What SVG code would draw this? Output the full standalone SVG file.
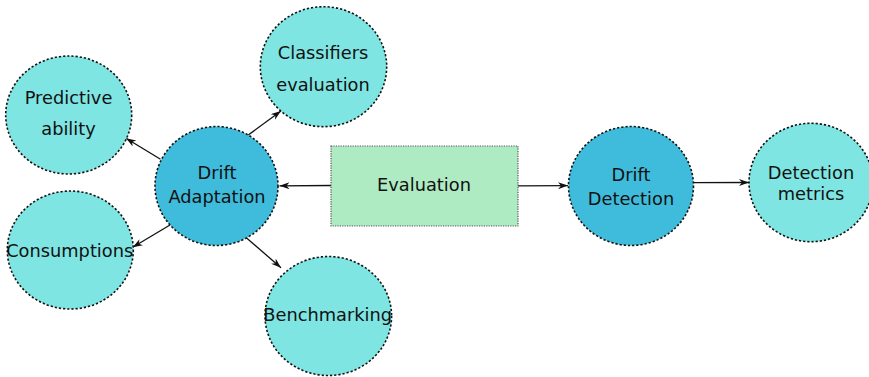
<svg xmlns="http://www.w3.org/2000/svg" width="869" height="377" viewBox="0 0 869 377">
  <style>
    .leaf { fill: #7ee5e2; stroke: #111; stroke-width: 1.6; stroke-dasharray: 2.2 2; }
    .core { fill: #3fbcdc; stroke: #111; stroke-width: 1.6; stroke-dasharray: 2.2 2; }
    .box { fill: #aeeac2; stroke: #555; stroke-width: 1.2; stroke-dasharray: 1.2 1.2; }
    text { font-family: "DejaVu Sans", "Liberation Sans", sans-serif; font-size: 17.8px; fill: #111; text-anchor: middle; }
    .edge { stroke: #111; stroke-width: 1.3; fill: none; marker-end: url(#arrow); }
  </style>
  <defs>
    <marker id="arrow" markerWidth="11" markerHeight="8" refX="10" refY="3.5" orient="auto" markerUnits="userSpaceOnUse">
      <path d="M0,0 L10,3.5 L0,7 L3,3.5 z" fill="#111"/>
    </marker>
  </defs>

  <!-- connectors -->
  <g id="edges">
    <line class="edge" x1="331" y1="185.5" x2="279.5" y2="185.8"/>
    <line class="edge" x1="518" y1="185.8" x2="568" y2="185.6"/>
    <line class="edge" x1="694" y1="182.7" x2="749" y2="182.5"/>
    <line class="edge" x1="160.5" y1="159.3" x2="126" y2="138.3"/>
    <line class="edge" x1="248.3" y1="135" x2="281" y2="111"/>
    <line class="edge" x1="170" y1="225" x2="132.7" y2="247.3"/>
    <line class="edge" x1="245.7" y1="237.3" x2="281" y2="267.7"/>
  </g>

  <g id="evaluation">
    <rect class="box" x="331" y="146" width="187" height="80"/>
    <text x="424" y="191">Evaluation</text>
  </g>

  <g id="drift-adaptation">
    <ellipse class="core" cx="216.5" cy="186" rx="61.5" ry="59.5"/>
    <text x="217" y="179.3">Drift</text>
    <text x="217" y="203.3">Adaptation</text>
  </g>

  <g id="drift-detection">
    <ellipse class="core" cx="631" cy="186" rx="62.5" ry="59.5"/>
    <text x="631" y="181">Drift</text>
    <text x="631" y="205">Detection</text>
  </g>

  <g id="predictive-ability">
    <ellipse class="leaf" cx="68.7" cy="115" rx="63" ry="59"/>
    <text x="68.5" y="104">Predictive</text>
    <text x="68.5" y="135">ability</text>
  </g>

  <g id="classifiers-evaluation">
    <ellipse class="leaf" cx="323.5" cy="66.7" rx="63.2" ry="60"/>
    <text x="323" y="59.3">Classifiers</text>
    <text x="323" y="90.7">evaluation</text>
  </g>

  <g id="consumptions">
    <ellipse class="leaf" cx="70.3" cy="250" rx="63" ry="59"/>
    <text x="69.7" y="256.7">Consumptions</text>
  </g>

  <g id="benchmarking">
    <ellipse class="leaf" cx="328.3" cy="316" rx="63.3" ry="59.5"/>
    <text x="327.7" y="320.7">Benchmarking</text>
  </g>

  <g id="detection-metrics">
    <ellipse class="leaf" cx="811" cy="182.5" rx="62" ry="59.2"/>
    <text x="811" y="179.3">Detection</text>
    <text x="811" y="200">metrics</text>
  </g>
</svg>
